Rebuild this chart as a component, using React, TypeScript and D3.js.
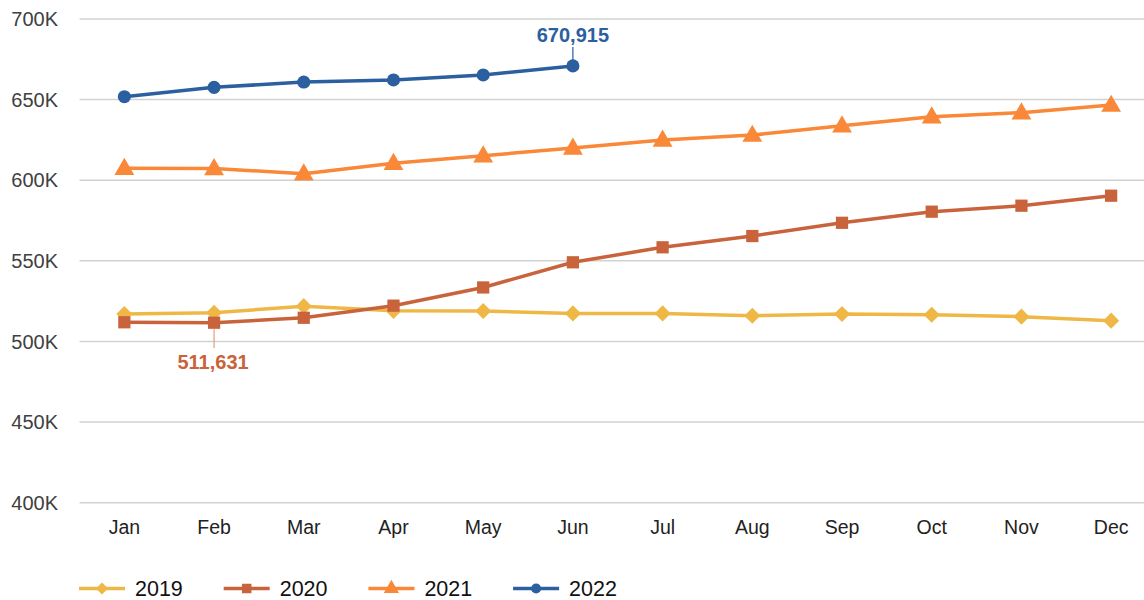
import React, { useEffect, useRef } from "react";
import * as d3 from "d3";

const months = ["Jan", "Feb", "Mar", "Apr", "May", "Jun", "Jul", "Aug", "Sep", "Oct", "Nov", "Dec"];
const yTicks = [400000, 450000, 500000, 550000, 600000, 650000, 700000];

const values2019 = [517000, 517800, 521900, 519000, 518900, 517400, 517400, 516000, 517000, 516600, 515400, 512900];
const values2020 = [511900, 511631, 514700, 522200, 533500, 549100, 558400, 565400, 573600, 580500, 584200, 590400];
const values2021 = [607400, 607300, 604000, 610500, 615200, 620000, 625000, 628000, 633800, 639400, 641900, 646600];
const values2022 = [651800, 657600, 660900, 662200, 665300, 670915];

const seriesNames = ["2019", "2020", "2021", "2022"];
const seriesColors = ["#efb846", "#c9633b", "#f98838", "#2b5f9f"];

const FONT = "'Liberation Sans', Arial, Helvetica, sans-serif";

export default function App() {
  const ref = useRef<SVGSVGElement>(null);

  useEffect(() => {
    const svg = d3.select(ref.current);
    svg.selectAll("*").remove();

    const width = 1144;
    const left = 79.5, right = 1156, top = 19, bottom = 502.7;

    const xScale = d3.scalePoint<string>().domain(months).range([left, right]).padding(0.5);
    const yScale = d3.scaleLinear().domain([400000, 700000]).range([bottom, top]);

    // gridlines
    svg.append("g")
      .selectAll("line")
      .data(yTicks)
      .enter()
      .append("line")
      .attr("x1", left)
      .attr("x2", width)
      .attr("y1", d => yScale(d))
      .attr("y2", d => yScale(d))
      .attr("stroke", "#d2d2d2")
      .attr("stroke-width", 1.5);

    // y labels
    svg.append("g")
      .selectAll("text")
      .data(yTicks)
      .enter()
      .append("text")
      .attr("x", 58)
      .attr("y", d => yScale(d))
      .attr("dy", "0.36em")
      .attr("text-anchor", "end")
      .style("font-family", FONT)
      .style("font-size", "20px")
      .style("fill", "#404040")
      .text(d => d / 1000 + "K");

    // x labels
    svg.append("g")
      .selectAll("text")
      .data(months)
      .enter()
      .append("text")
      .attr("x", d => xScale(d)!)
      .attr("y", 534)
      .attr("text-anchor", "middle")
      .style("font-family", FONT)
      .style("font-size", "19.5px")
      .style("fill", "#222")
      .text(d => d);

    const allSeries = [values2019, values2020, values2021, values2022];
    const symbols = [d3.symbolDiamond2, d3.symbolSquare, d3.symbolTriangle, d3.symbolCircle];
    const sizes = [165, 150, 170, 135];
    const legendSizes = [95, 90, 100, 80];

    const line = d3.line<number>()
      .x((_, i) => xScale(months[i])!)
      .y(d => yScale(d));

    allSeries.forEach((vals, s) => {
      const g = svg.append("g");
      g.append("path")
        .datum(vals)
        .attr("d", line)
        .attr("fill", "none")
        .attr("stroke", seriesColors[s])
        .attr("stroke-width", 3.5)
        .attr("stroke-linejoin", "round");
      g.selectAll("path.mark")
        .data(vals)
        .enter()
        .append("path")
        .attr("class", "mark")
        .attr("d", d3.symbol().type(symbols[s]).size(sizes[s])())
        .attr("transform", (d, i) => `translate(${xScale(months[i])},${yScale(d) + (s === 2 ? 1 : 0)})`)
        .attr("fill", seriesColors[s]);
    });

    // data labels
    const fmt = d3.format(",");
    const lastIdx = values2022.length - 1;
    const x22 = xScale(months[lastIdx])!;
    svg.append("line")
      .attr("x1", x22).attr("x2", x22)
      .attr("y1", 47).attr("y2", yScale(values2022[lastIdx]) - 6)
      .attr("stroke", seriesColors[3]).attr("stroke-width", 1.2);
    svg.append("text")
      .attr("x", x22)
      .attr("y", 42)
      .attr("text-anchor", "middle")
      .style("font-family", FONT)
      .style("font-size", "20px")
      .style("font-weight", "bold")
      .style("fill", seriesColors[3])
      .text(fmt(values2022[lastIdx]));

    const x20 = xScale(months[1])!;
    svg.append("line")
      .attr("x1", x20).attr("x2", x20)
      .attr("y1", yScale(values2020[1]) + 6).attr("y2", 348)
      .attr("stroke", "#e0a080").attr("stroke-width", 1.2);
    svg.append("text")
      .attr("x", x20 - 1)
      .attr("y", 369)
      .attr("text-anchor", "middle")
      .style("font-family", FONT)
      .style("font-size", "20px")
      .style("font-weight", "bold")
      .style("fill", seriesColors[1])
      .text(fmt(values2020[1]));

    // legend
    const legend = svg.append("g")
      .selectAll("g")
      .data(seriesNames)
      .enter()
      .append("g")
      .attr("transform", (_, i) => `translate(${79 + i * 144.7},588.5)`);
    legend.append("line")
      .attr("x1", 0).attr("x2", 46)
      .attr("stroke", (_, i) => seriesColors[i])
      .attr("stroke-width", 3.5);
    legend.append("path")
      .attr("d", (_, i) => d3.symbol().type(symbols[i]).size(legendSizes[i])())
      .attr("transform", "translate(23,0)")
      .attr("fill", (_, i) => seriesColors[i]);
    legend.append("text")
      .attr("x", 56)
      .attr("dy", "0.36em")
      .style("font-family", FONT)
      .style("font-size", "21.5px")
      .style("fill", "#111")
      .text(d => d);
  }, []);

  return (
    <div>
      <svg ref={ref} width={1144} height={600} style={{ position: "absolute", left: 0, top: 0, background: "#fff" }}></svg>
    </div>
  );
}
